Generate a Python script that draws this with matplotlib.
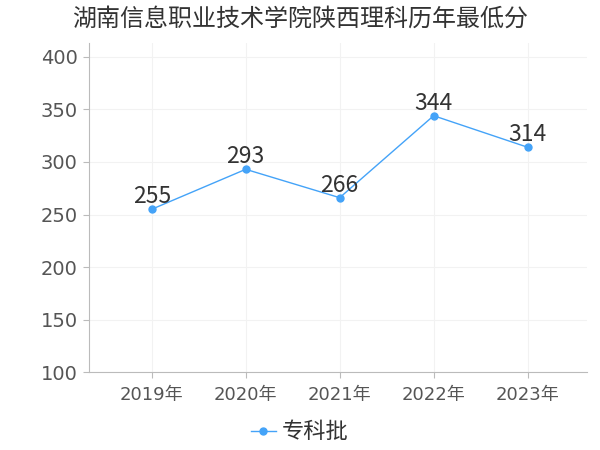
import numpy as np
import matplotlib
matplotlib.use('Agg')
import matplotlib.pyplot as plt

plt.rcParams['font.family'] = ['Noto Sans CJK SC', 'DejaVu Sans']

years = ['2019年', '2020年', '2021年', '2022年', '2023年']
scores = [255, 293, 266, 344, 314]
series_name = '专科批'
title = '湖南信息职业技术学院陕西理科历年最低分'

line_color = '#44a3f8'
tick_fonts = ['DejaVu Sans', 'Noto Sans CJK SC']

fig = plt.figure(figsize=(6, 4.5), dpi=100)
ax = fig.add_axes([0.148, 0.173, 0.83, 0.731])

x = np.arange(len(years))
ax.plot(x, scores, color=line_color, lw=1, marker='o', ms=5, label=series_name)
for xi, v in zip(x, scores):
    ax.text(xi, v + 1, str(v), ha='center', va='bottom', fontsize=16.5, color='#333333')

ax.set_xlim(-0.67, 4.63)
ax.set_ylim(100, 413)
ax.set_yticks(range(100, 401, 50))
ax.set_xticks(x)
ax.set_xticklabels(years)
ax.grid(True, color='#f2f2f2', lw=0.8)
ax.set_axisbelow(True)

for s in ['top', 'right']:
    ax.spines[s].set_visible(False)
for s in ['left', 'bottom']:
    ax.spines[s].set_color('#bbbbbb')
ax.tick_params(axis='both', colors='#bbbbbb', labelcolor='#555555', length=4)
ax.tick_params(axis='x', pad=6, labelsize=13)
ax.tick_params(axis='y', pad=4, labelsize=14)
for lab in ax.get_xticklabels() + ax.get_yticklabels():
    lab.set_family(tick_fonts)

fig.text(0.5, 0.958, title, ha='center', va='center', fontsize=17.3, color='#333333')
fig.legend(loc='center', bbox_to_anchor=(0.5, 0.04), frameon=False, fontsize=16,
           handlelength=1.1, labelcolor='#333333', handletextpad=0.3)

fig.savefig('out.png', dpi=100)
